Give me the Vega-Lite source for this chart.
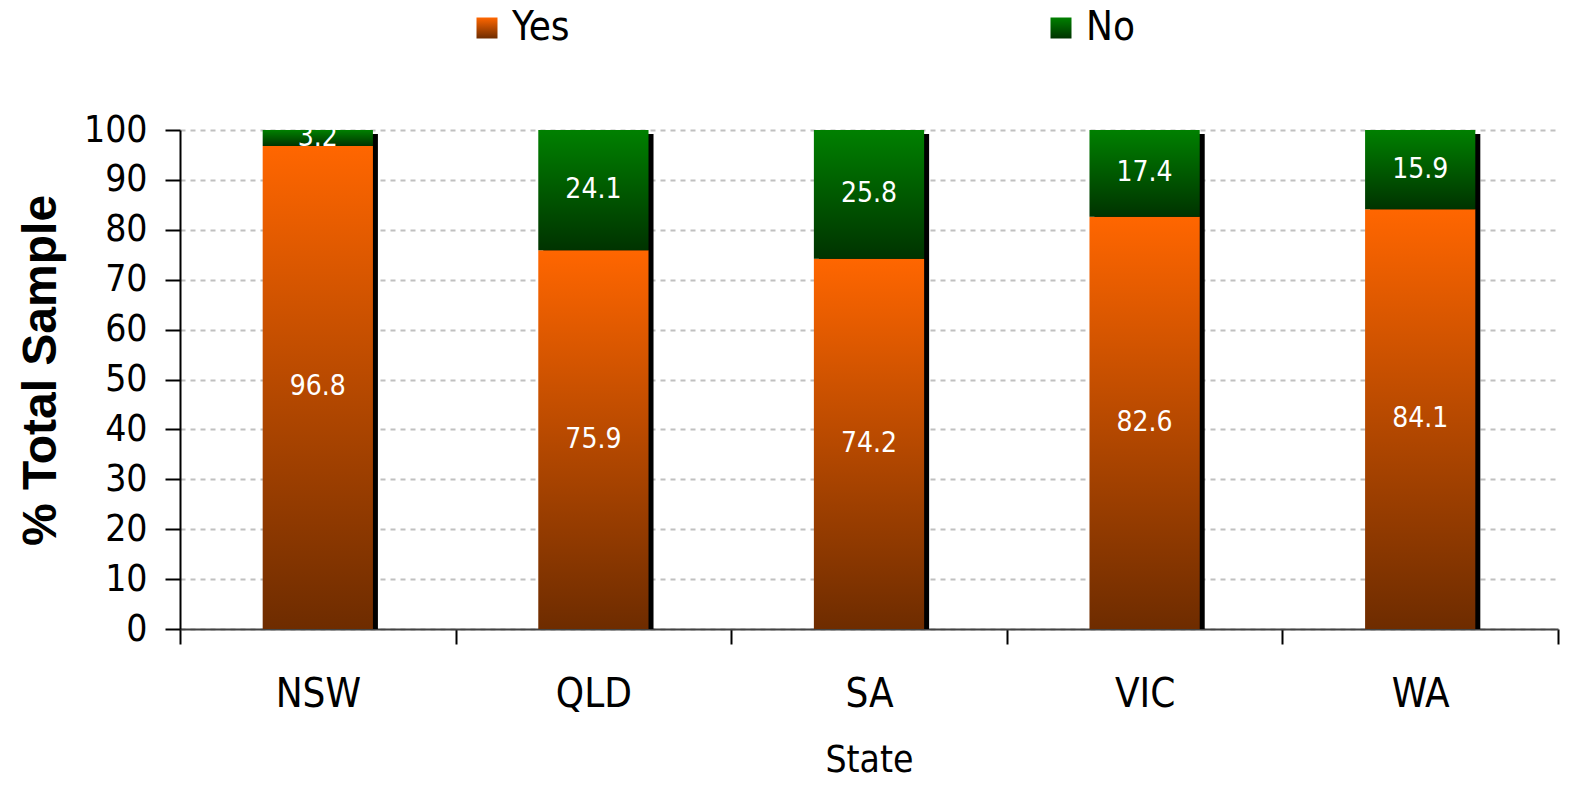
{
  "$schema": "https://vega.github.io/schema/vega-lite/v6.json",
  "width": 1378,
  "height": 499,
  "autosize": {"type": "none"},
  "padding": {"left": 180, "top": 130, "right": 12, "bottom": 156},
  "data": {
    "values": [
      {"state": "NSW", "answer": "Yes", "value": 96.8},
      {"state": "NSW", "answer": "No", "value": 3.2},
      {"state": "QLD", "answer": "Yes", "value": 75.9},
      {"state": "QLD", "answer": "No", "value": 24.1},
      {"state": "SA", "answer": "Yes", "value": 74.2},
      {"state": "SA", "answer": "No", "value": 25.8},
      {"state": "VIC", "answer": "Yes", "value": 82.6},
      {"state": "VIC", "answer": "No", "value": 17.4},
      {"state": "WA", "answer": "Yes", "value": 84.1},
      {"state": "WA", "answer": "No", "value": 15.9}
    ]
  },
  "transform": [
    {"stack": "value", "groupby": ["state"], "sort": [{"field": "answer", "order": "descending"}], "as": ["y0", "y1"]},
    {"calculate": "(datum.y0 + datum.y1) / 2", "as": "ymid"}
  ],
  "encoding": {
    "x": {
      "field": "state",
      "type": "nominal",
      "title": "State",
      "scale": {"paddingInner": 0, "paddingOuter": 0}
    }
  },
  "layer": [
    {
      "mark": {"type": "bar", "color": "black", "xOffset": 5, "yOffset": 4, "width": {"band": 0.4}},
      "encoding": {
        "y": {"field": "value", "aggregate": "sum", "type": "quantitative", "title": "% Total Sample",
              "scale": {"domain": [0, 100], "nice": false}}
      }
    },
    {
      "mark": {"type": "bar", "opacity": 0, "width": {"band": 0.4}},
      "encoding": {
        "y": {"field": "y1", "type": "quantitative", "title": "% Total Sample"},
        "y2": {"field": "y0"},
        "color": {
          "field": "answer",
          "type": "nominal",
          "scale": {
            "domain": ["Yes", "No"],
            "range": [
              {"expr": "{gradient: 'linear', x1: 0, y1: 0, x2: 0, y2: 1, stops: [{offset: 0, color: '#ff6600'}, {offset: 1, color: '#6e2c00'}]}"},
              {"expr": "{gradient: 'linear', x1: 0, y1: 0, x2: 0, y2: 1, stops: [{offset: 0, color: '#008000'}, {offset: 1, color: '#003300'}]}"}
            ]
          },
          "legend": {
            "title": null,
            "orient": "none",
            "legendX": 287,
            "legendY": -122,
            "direction": "horizontal",
            "symbolType": "square",
            "symbolSize": 441,
            "symbolStrokeWidth": 0,
            "labelFontSize": 40,
            "labelFont": "DejaVu Sans Condensed",
            "labelColor": "black",
            "labelOffset": 5,
            "columnPadding": 471,
            "symbolOpacity": 1
          }
        }
      }
    },
    {
      "mark": {"type": "bar", "width": {"band": 0.4}},
      "encoding": {
        "y": {"field": "y1", "type": "quantitative", "title": "% Total Sample"},
        "y2": {"field": "y0"},
        "color": {
          "condition": {
            "test": "datum.answer === 'Yes'",
            "value": {"gradient": "linear", "x1": 0, "y1": 0, "x2": 0, "y2": 1,
              "stops": [{"offset": 0, "color": "#ff6600"}, {"offset": 1, "color": "#6e2c00"}]}
          },
          "value": {"gradient": "linear", "x1": 0, "y1": 0, "x2": 0, "y2": 1,
            "stops": [{"offset": 0, "color": "#008000"}, {"offset": 1, "color": "#003300"}]}
        }
      }
    },
    {
      "mark": {"type": "text", "color": "white", "fontSize": 28, "font": "DejaVu Sans Condensed", "align": "center", "baseline": "middle"},
      "encoding": {
        "y": {"field": "ymid", "type": "quantitative", "title": "% Total Sample"},
        "text": {"field": "value", "type": "quantitative", "format": ".1f"}
      }
    }
  ],
  "config": {
    "view": {"stroke": null},
    "axis": {
      "labelFont": "DejaVu Sans Condensed",
      "titleFont": "DejaVu Sans Condensed",
      "labelColor": "black",
      "titleColor": "black",
      "tickColor": "black",
      "domainColor": "black",
      "tickSize": 15,
      "tickWidth": 2,
      "domainWidth": 2
    },
    "axisY": {
      "labelFontSize": 37,
      "titleFont": "Liberation Sans",
      "titleFontWeight": "bold",
      "titleFontSize": 48,
      "titleY": 240,
      "grid": true,
      "gridDash": [5, 5],
      "gridColor": "#c0c0c0",
      "gridWidth": 2,
      "labelPadding": 18,
      "titlePadding": 18,
      "tickCount": 10
    },
    "axisX": {
      "labelFontSize": 40,
      "titleFontSize": 37,
      "titleFontWeight": "normal",
      "labelAngle": 0,
      "tickBand": "extent",
      "grid": false,
      "labelPadding": 30,
      "titlePadding": 28,
      "domainColor": "#444444"
    }
  }
}
